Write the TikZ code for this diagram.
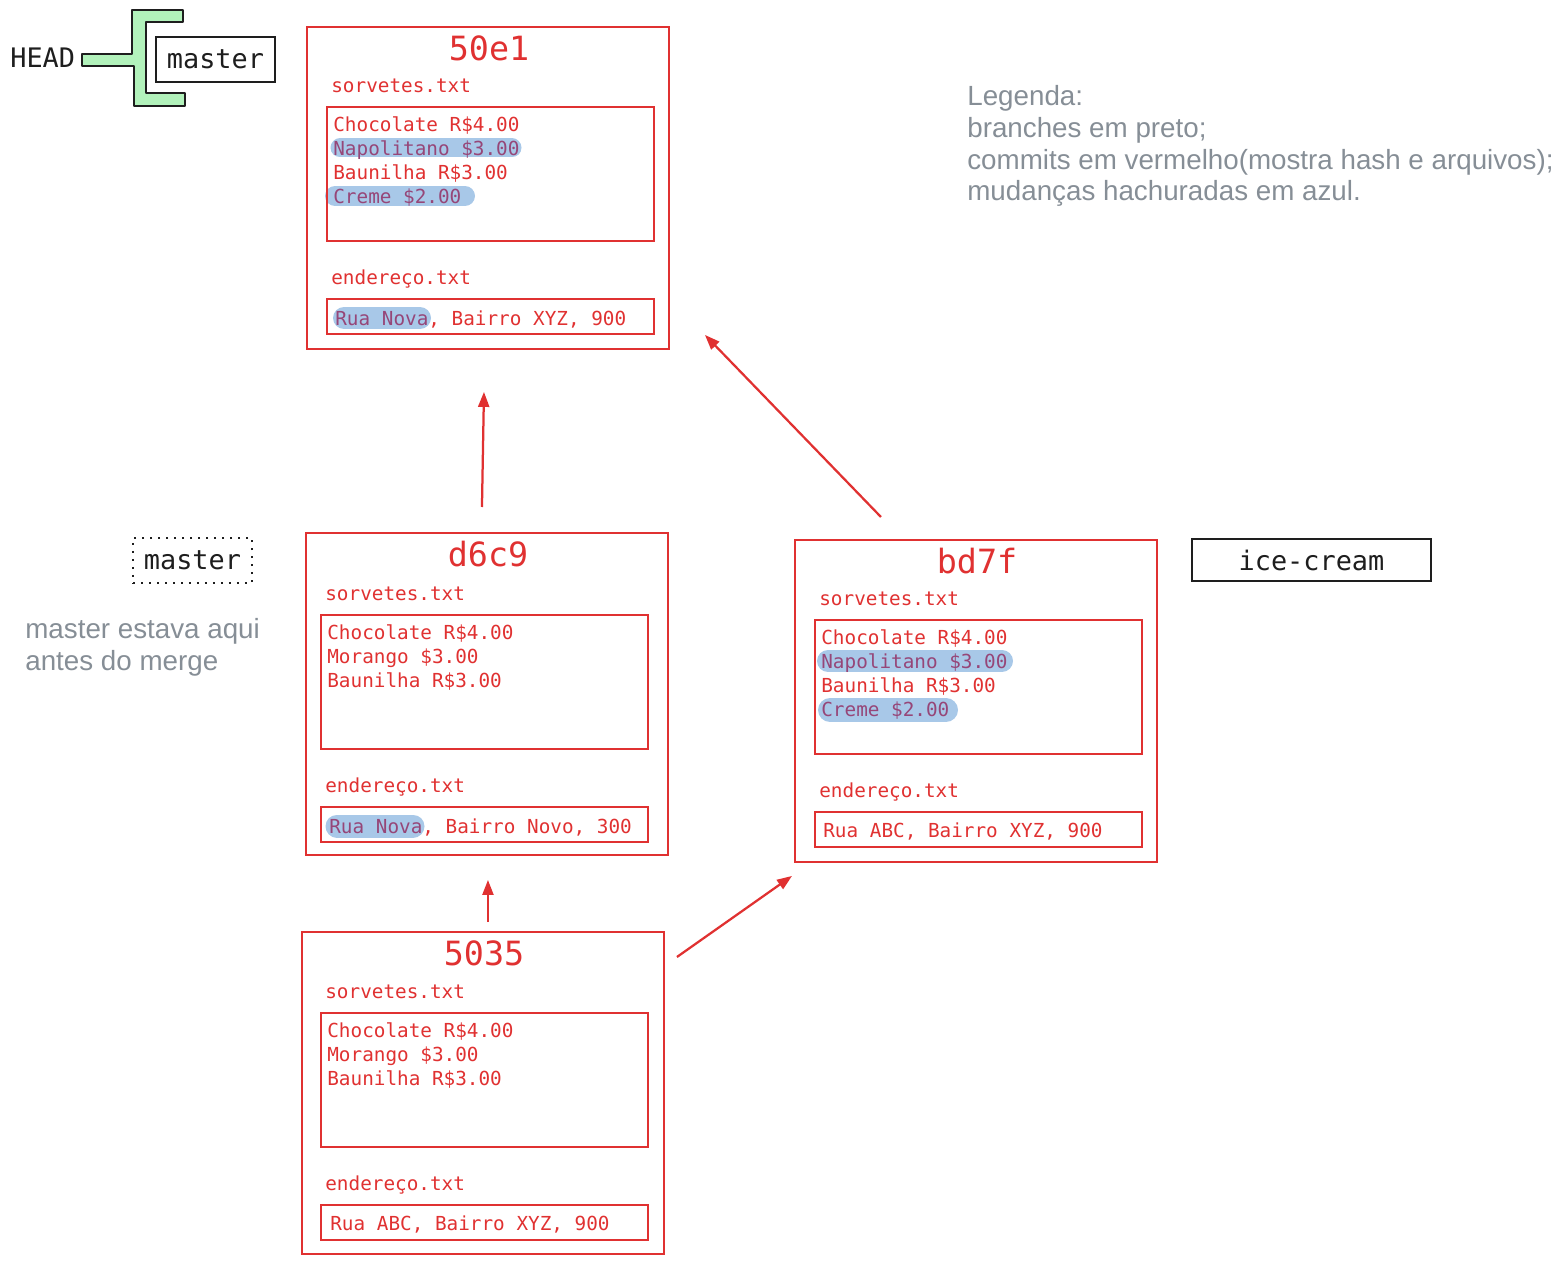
\documentclass[tikz,border=0pt]{standalone}
\usepackage{fontspec}
\setmainfont{Liberation Sans}
\setmonofont{DejaVu Sans Mono}
\usetikzlibrary{arrows.meta,calc}
\definecolor{cred}{HTML}{E03131}
\definecolor{cgray}{HTML}{868E96}
\definecolor{cgreen}{HTML}{B2F2BB}
\definecolor{chl}{RGB}{168,200,232}
\definecolor{chltext}{RGB}{150,70,120}
\definecolor{cink}{HTML}{1E1E1E}

\newcommand\commitnode[6]{%
  \node[commitbox] (#1) at (#2,#3) {};
  \node[hashtxt] (#1-hash) at (#2+183,#3+22) {#6};
  \node[ftxt] (#1-f1) at (#4+5,#5-18) {sorvetes.txt};
  \node[filebox, minimum height=2.68cm] (#1-sv) at (#4,#5) {};
  \node[ftxt] (#1-f2) at (#4+5,#5+174) {endereço.txt};
  \node[filebox, minimum height=0.7cm] (#1-ad) at (#4,#5+192) {};
}
\newcommand\filelines[4]{%
  \foreach \t [count=\i from 0] in {#4} {\node[ftxt] (#1-l\i) at (#2+7,#3+21+24*\i) {\t};}
}

\begin{document}
\begin{tikzpicture}[x=0.02cm,y=-0.02cm,
  commitbox/.style={draw=cred, line width=0.04cm, minimum width=7.24cm, minimum height=6.44cm, anchor=north west, inner sep=0},
  filebox/.style={draw=cred, line width=0.036cm, minimum width=6.54cm, anchor=north west, inner sep=0},
  hashtxt/.style={text=cred, font=\fontsize{19}{22}\selectfont\ttfamily, inner sep=0},
  ftxt/.style={text=cred, font=\fontsize{11}{13}\selectfont\ttfamily, anchor=west, inner sep=0, text height=0.78em, text depth=0.22em},
  branch/.style={text=cink, font=\fontsize{15.3}{18}\selectfont\ttfamily, inner sep=0},
  branchbox/.style={branch, draw=cink, line width=0.04cm},
  note/.style={text=cgray, font=\fontsize{15.8}{18.1}\selectfont, align=left, inner sep=0, anchor=north west},
  arr/.style={draw=cred, line width=0.045cm, -{Triangle[length=0.3cm,width=0.22cm]}},
  hl/.style={draw=chl, line cap=round},
]
\useasboundingbox (0,0) rectangle (1568,1263);

% highlights (behind text)
\draw[hl, line width=0.38cm] (340,148) -- (512,148);
\draw[hl, line width=0.40cm] (335,196) -- (465,196);
\draw[hl, line width=0.44cm] (344,318) -- (420,318);
\draw[hl, line width=0.46cm] (337,826) -- (413,826);
\draw[hl, line width=0.44cm] (828,661) -- (1002,661);
\draw[hl, line width=0.48cm] (830,710) -- (946,710);

% commit 50e1
\commitnode{c50e1}{306}{26}{326}{106}{50e1}
\filelines{c50e1}{326}{106}{Chocolate R\$4.00,\textcolor{chltext}{Napolitano \$3.00},Baunilha R\$3.00,\textcolor{chltext}{Creme \$2.00}}
\node[ftxt] (c50e1-addr) at (335,321) {\textcolor{chltext}{Rua Nova}, Bairro XYZ, 900};

% commit d6c9
\commitnode{d6c9}{305}{532}{320}{614}{d6c9}
\filelines{d6c9}{320}{614}{Chocolate R\$4.00,Morango \$3.00,Baunilha R\$3.00}
\node[ftxt] (d6c9-addr) at (329,829) {\textcolor{chltext}{Rua Nova}, Bairro Novo, 300};

% commit bd7f
\commitnode{bd7f}{794}{539}{814}{619}{bd7f}
\filelines{bd7f}{814}{619}{Chocolate R\$4.00,\textcolor{chltext}{Napolitano \$3.00},Baunilha R\$3.00,\textcolor{chltext}{Creme \$2.00}}
\node[ftxt] (bd7f-addr) at (823,833) {Rua ABC, Bairro XYZ, 900};

% commit 5035
\commitnode{c5035}{301}{931}{320}{1012}{5035}
\filelines{c5035}{320}{1012}{Chocolate R\$4.00,Morango \$3.00,Baunilha R\$3.00}
\node[ftxt] (c5035-addr) at (330,1226) {Rua ABC, Bairro XYZ, 900};

% arrows (child -> parent)
\draw[arr] ($(c5035.north)+(5,-9)$) -- ($(d6c9.south)+(1,24)$);
\draw[arr] ($(c5035.north east)+(12,26)$) -- ($(bd7f.south west)+(-2,13)$);
\draw[arr] ($(d6c9.north)+(-5,-25)$) -- ($(c50e1.south)+(-4,42)$);
\draw[arr] ($(bd7f.north)+(-95,-22)$) -- ($(c50e1.south east)+(35,-15)$);

% HEAD -> master
\node[branch, anchor=west] (head) at (10,58) {HEAD};
\draw[fill=cgreen, draw=cink, line width=0.03cm, line join=round]
  (82,54) -- (132,54) -- (132,10) -- (183,10) -- (183,22) -- (146,22) -- (146,93)
  -- (185,93) -- (185,106) -- (134,106) -- (134,66) -- (82,66) -- cycle;
\node[branchbox, minimum width=2.38cm, minimum height=0.9cm] (master) at (215.5,59.5) {master};

% old master position
\node[branch, draw=cink, line width=0.04cm, dash pattern=on 0.04cm off 0.12cm, minimum width=2.38cm, minimum height=0.9cm] (oldmaster) at (192.5,560.5) {master};

% ice-cream branch
\node[branchbox, minimum width=4.78cm, minimum height=0.84cm] (icecream) at (1311.5,560) {ice-cream};

% notes
\node[note] (note1) at (25,618) {master estava aqui\\antes do merge};
\node[note] (legend) at (967,85) {Legenda:\\branches em preto;\\commits em vermelho(mostra hash e arquivos);\\mudanças hachuradas em azul.};
\end{tikzpicture}
\end{document}
